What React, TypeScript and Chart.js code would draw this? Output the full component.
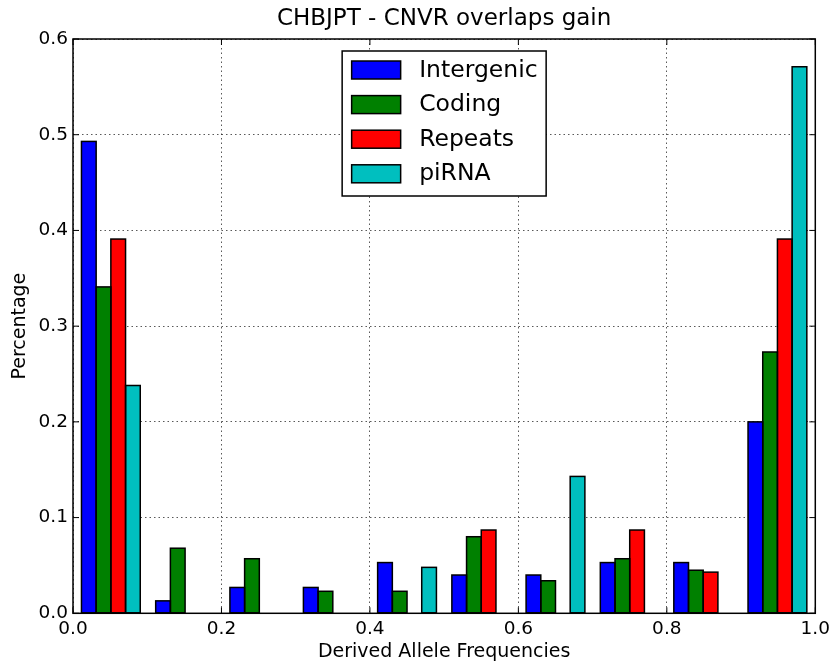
import React, { useEffect, useRef } from 'react';
import { Chart, registerables } from 'chart.js';

Chart.register(...registerables);

const chartTitle = 'CHBJPT - CNVR overlaps gain';
const xAxisTitle = 'Derived Allele Frequencies';
const yAxisTitle = 'Percentage';

const binCenters = [0.051, 0.151, 0.251, 0.350, 0.450, 0.550, 0.650, 0.750, 0.849, 0.949];
const intergenic = [0.493, 0.013, 0.027, 0.027, 0.053, 0.040, 0.040, 0.053, 0.053, 0.200];
const coding = [0.341, 0.068, 0.057, 0.023, 0.023, 0.080, 0.034, 0.057, 0.045, 0.273];
const repeats = [0.391, 0, 0, 0, 0, 0.087, 0, 0.087, 0.043, 0.391];
const pirna = [0.238, 0, 0, 0, 0.048, 0, 0.143, 0, 0, 0.571];

const seriesLabels = ['Intergenic', 'Coding', 'Repeats', 'piRNA'];
const seriesColors = ['#0000ff', '#008000', '#ff0000', '#00bfbf'];
const seriesValues = [intergenic, coding, repeats, pirna];

const FONT = "'DejaVu Sans', 'Liberation Sans', sans-serif";

// Outline bars with a centered stroke (like matplotlib edges) so adjacent bars share one edge.
const barEdgePlugin = {
  id: 'barEdges',
  afterDatasetsDraw(chart: any) {
    const { ctx } = chart;
    ctx.save();
    ctx.strokeStyle = '#000';
    ctx.lineWidth = 1.5;
    ctx.setLineDash([]);
    chart.data.datasets.forEach((_ds: any, d: number) => {
      const meta = chart.getDatasetMeta(d);
      meta.data.forEach((el: any) => {
        const { x, y, base, width } = el.getProps(['x', 'y', 'base', 'width'], true);
        if (Math.abs(base - y) < 0.5) return;
        ctx.strokeRect(x - width / 2, Math.min(y, base), width, Math.abs(base - y));
      });
    });
    ctx.restore();
  },
};

const framePlugin = {
  id: 'mplFrame',
  afterDraw(chart: any) {
    const { ctx, chartArea } = chart;
    const { left, right, top, bottom } = chartArea;
    const xs = chart.scales.x;
    const ys = chart.scales.y;
    ctx.save();
    ctx.strokeStyle = '#000';
    ctx.lineWidth = 1;
    ctx.setLineDash([]);
    const tl = 6;
    xs.ticks.forEach((t: any) => {
      const px = xs.getPixelForValue(t.value);
      ctx.beginPath();
      ctx.moveTo(px, bottom);
      ctx.lineTo(px, bottom - tl);
      ctx.moveTo(px, top);
      ctx.lineTo(px, top + tl);
      ctx.stroke();
    });
    ys.ticks.forEach((t: any) => {
      const py = ys.getPixelForValue(t.value);
      ctx.beginPath();
      ctx.moveTo(left, py);
      ctx.lineTo(left + tl, py);
      ctx.moveTo(right, py);
      ctx.lineTo(right - tl, py);
      ctx.stroke();
    });
    ctx.lineWidth = 1.5;
    ctx.strokeRect(left, top, right - left, bottom - top);
    ctx.restore();
  },
};

const legendPlugin = {
  id: 'mplLegend',
  afterDraw(chart: any) {
    const { ctx, chartArea } = chart;
    const boxW = 204;
    const boxH = 145;
    const bx = (chartArea.left + chartArea.right) / 2 - boxW / 2;
    const by = chartArea.top + 12;
    ctx.save();
    ctx.fillStyle = '#fff';
    ctx.fillRect(bx, by, boxW, boxH);
    ctx.strokeStyle = '#000';
    ctx.lineWidth = 1.5;
    ctx.setLineDash([]);
    ctx.strokeRect(bx, by, boxW, boxH);
    ctx.font = `23.5px ${FONT}`;
    ctx.textBaseline = 'middle';
    ctx.textAlign = 'left';
    chart.data.datasets.forEach((ds: any, i: number) => {
      const sy = by + 10 + i * 34.6;
      ctx.fillStyle = ds.backgroundColor;
      ctx.fillRect(bx + 9.5, sy, 49, 18);
      ctx.lineWidth = 1.5;
      ctx.strokeStyle = '#000';
      ctx.strokeRect(bx + 9.5, sy, 49, 18);
      ctx.fillStyle = '#000';
      ctx.fillText(ds.label, bx + 77, sy + 9.5);
    });
    ctx.restore();
  },
};

export default function App() {
  const canvasRef = useRef<HTMLCanvasElement | null>(null);

  useEffect(() => {
    document.body.style.margin = '0';
    const canvas = canvasRef.current;
    if (!canvas) return;
    const datasets = seriesLabels.map((label, i) => ({
      label,
      data: binCenters.map((x, j) => ({ x, y: seriesValues[i][j] })),
      backgroundColor: seriesColors[i],
      borderWidth: 0,
      barPercentage: 1.0,
      categoryPercentage: 0.8,
      inflateAmount: 0,
    }));
    const chart = new Chart(canvas, {
      type: 'bar',
      data: { datasets },
      options: {
        animation: false,
        responsive: true,
        maintainAspectRatio: false,
        layout: { padding: { left: 0, right: 19.5, top: 0, bottom: 0 } },
        plugins: {
          legend: { display: false },
          tooltip: { enabled: false },
          title: {
            display: true,
            text: chartTitle,
            color: '#000',
            fullSize: false,
            font: { family: FONT, size: 23, weight: 'normal', lineHeight: 1.2 },
            padding: { top: 5, bottom: 6.4 },
          },
        },
        scales: {
          x: {
            type: 'linear',
            min: 0,
            max: 1,
            offset: false,
            z: 1,
            grid: {
              offset: false,
              drawTicks: false,
              color: 'rgba(0,0,0,0.65)',
              lineWidth: 1,
            },
            border: { display: false, dash: [1.5, 3] },
            ticks: {
              stepSize: 0.2,
              padding: 5,
              color: '#000',
              font: { family: FONT, size: 18.5 },
              callback: (v: any) => Number(v).toFixed(1),
              maxRotation: 0,
            },
            title: {
              display: true,
              text: xAxisTitle,
              color: '#000',
              font: { family: FONT, size: 19, lineHeight: 1.2 },
              padding: { top: 0, bottom: 6.6 },
            },
            afterFit: (scale: any) => {
              scale.height = 56.7;
            },
          },
          y: {
            type: 'linear',
            min: 0,
            max: 0.6,
            z: 1,
            grid: {
              drawTicks: false,
              color: 'rgba(0,0,0,0.65)',
              lineWidth: 1,
            },
            border: { display: false, dash: [1.5, 3] },
            ticks: {
              stepSize: 0.1,
              padding: 5,
              color: '#000',
              font: { family: FONT, size: 18.5 },
              callback: (v: any) => Number(v).toFixed(1),
            },
            title: {
              display: true,
              text: yAxisTitle,
              color: '#000',
              font: { family: FONT, size: 19, lineHeight: 1.2 },
              padding: { top: 8.6, bottom: 0 },
            },
            afterFit: (scale: any) => {
              scale.width = 73;
            },
          },
        },
      },
      plugins: [barEdgePlugin, framePlugin, legendPlugin],
    } as any);
    return () => chart.destroy();
  }, []);

  return (
    <div style={{ width: 835, height: 670, position: 'relative' }}>
      <canvas ref={canvasRef} />
    </div>
  );
}
